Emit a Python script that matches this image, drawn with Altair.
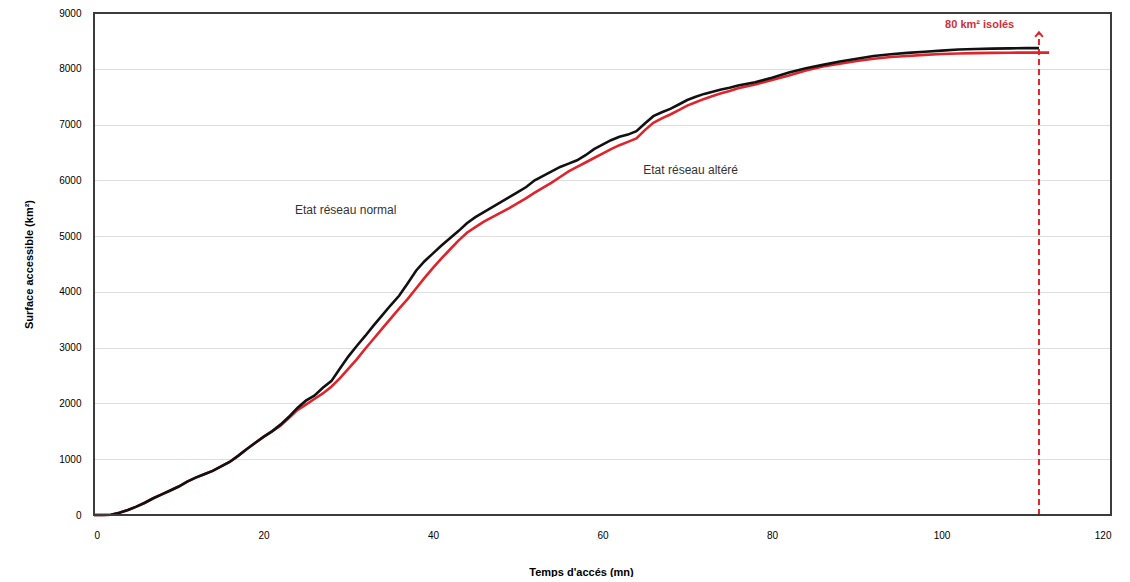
import altair as alt
import pandas as pd

# Etat réseau normal (black)
x_normal = [0, 1, 2, 3, 4, 5, 6, 7, 8, 9, 10, 11, 12, 13, 14, 15, 16, 17, 18, 19,
            20, 21, 22, 23, 24, 25, 26, 27, 28, 29, 30, 31, 32, 33, 34, 35, 36, 37, 38, 39,
            40, 41, 42, 43, 44, 45, 46, 47, 48, 49, 50, 51, 52, 53, 54, 55, 56, 57, 58, 59,
            60, 61, 62, 63, 64, 65, 66, 67, 68, 69, 70, 71, 72, 73, 74, 75, 76, 78, 80, 82,
            84, 86, 88, 90, 92, 94, 96, 98, 100, 102, 104, 106, 108, 110, 111.5]
y_normal = [0, 0, 5, 40, 90, 150, 220, 300, 370, 440, 510, 600, 670, 730, 790, 870, 950, 1060, 1180, 1290,
            1400, 1500, 1620, 1760, 1920, 2050, 2140, 2280, 2400, 2620, 2840, 3030, 3210, 3400, 3580, 3760, 3930, 4150, 4380, 4550,
            4690, 4830, 4960, 5090, 5230, 5340, 5430, 5520, 5610, 5700, 5790, 5880, 6000, 6080, 6160, 6240, 6300, 6360, 6450, 6560,
            6640, 6720, 6780, 6820, 6880, 7020, 7150, 7220, 7280, 7360, 7440, 7500, 7550, 7590, 7630, 7660, 7700, 7760, 7840, 7935,
            8010, 8070, 8130, 8180, 8230, 8260, 8285, 8305, 8325, 8345, 8355, 8362, 8366, 8370, 8370]

# Etat réseau altéré (red)
x_altere = [0, 1, 2, 3, 4, 5, 6, 7, 8, 9, 10, 11, 12, 13, 14, 15, 16, 17, 18, 19,
            20, 21, 22, 23, 24, 25, 26, 27, 28, 29, 30, 31, 32, 33, 34, 35, 36, 37, 38, 39,
            40, 41, 42, 43, 44, 45, 46, 47, 48, 49, 50, 51, 52, 53, 54, 55, 56, 57, 58, 59,
            60, 61, 62, 63, 64, 65, 66, 67, 68, 69, 70, 71, 72, 73, 74, 75, 76, 78, 80, 82,
            84, 86, 88, 90, 92, 94, 96, 98, 100, 102, 104, 106, 108, 110, 112.7]
y_altere = [0, 0, 5, 40, 90, 150, 220, 300, 370, 440, 510, 600, 670, 730, 790, 870, 950, 1060, 1180, 1290,
            1400, 1500, 1600, 1740, 1880, 1980, 2080, 2180, 2300, 2450, 2620, 2790, 2980, 3160, 3340, 3520, 3700, 3870, 4060, 4250,
            4430, 4600, 4760, 4920, 5060, 5160, 5260, 5340, 5420, 5500, 5590, 5680, 5780, 5870, 5960, 6060, 6160, 6240, 6320, 6400,
            6480, 6560, 6630, 6690, 6750, 6900, 7030, 7110, 7180, 7260, 7340, 7400, 7460, 7510, 7560, 7600, 7650, 7720, 7800, 7880,
            7970, 8040, 8090, 8140, 8180, 8210, 8230, 8250, 8265, 8275, 8280, 8285, 8288, 8290, 8290]

series_names = ["Etat réseau normal", "Etat réseau altéré"]
series_colors = ["#111111", "#e0242b"]

# annotations
label_x = [29.7, 70.4]
label_y = [5466, 6183]
label_text = ["Etat réseau normal", "Etat réseau altéré"]

isolated_x = 111.5
isolated_top = 8620
isolated_text = "80 km² isolés"
isolated_text_x = 104.5
isolated_text_y = 8790

x_min, x_max = 0, 120
y_min, y_max = 0, 9000

df = pd.concat([
    pd.DataFrame({"t": x_normal, "s": y_normal, "serie": series_names[0], "o": range(len(x_normal))}),
    pd.DataFrame({"t": x_altere, "s": y_altere, "serie": series_names[1], "o": range(len(x_altere))}),
])

xs = alt.Scale(domain=[x_min, x_max], nice=False)
ys = alt.Scale(domain=[y_min, y_max], nice=False)

x_ax = alt.Axis(title="Temps d'accés (mn)", values=list(range(0, 121, 20)), grid=False, format="d",
                domain=False, ticks=False, labelPadding=15, titlePadding=26, titleX=487)
y_ax = alt.Axis(title="Surface accessible (km²)", values=list(range(0, 9001, 1000)), grid=True, format="d",
                domain=False, ticks=False, labelPadding=13, titlePadding=24)

lines = alt.Chart(df).mark_line(strokeWidth=2.6, interpolate="linear").encode(
    x=alt.X("t:Q", scale=xs, axis=x_ax),
    y=alt.Y("s:Q", scale=ys, axis=y_ax),
    color=alt.Color("serie:N", scale=alt.Scale(domain=series_names, range=series_colors), legend=None),
    order="o:Q",
)

red = lines.transform_filter(alt.datum.serie == series_names[1])
black = lines.transform_filter(alt.datum.serie == series_names[0])

frame_df = pd.DataFrame({"x0": [x_min], "x1": [x_max], "y0": [y_min], "y1": [y_max]})
frame = alt.Chart(frame_df).mark_rect(filled=False, stroke="#3c3c3c", strokeWidth=2, fillOpacity=0).encode(
    x=alt.X("x0:Q", scale=xs), x2="x1:Q", y=alt.Y("y0:Q", scale=ys), y2="y1:Q")

lab_df = pd.DataFrame({"x": label_x, "y": label_y, "t": label_text})
labels = alt.Chart(lab_df).mark_text(fontSize=12, color="#333333", font="Liberation Sans").encode(
    x=alt.X("x:Q", scale=xs), y=alt.Y("y:Q", scale=ys), text="t:N")

iso_df = pd.DataFrame({"x": [isolated_x], "y0": [0], "y1": [isolated_top]})
dash = alt.Chart(iso_df).mark_rule(color="#e0242b", strokeWidth=2, strokeDash=[6, 4]).encode(
    x=alt.X("x:Q", scale=xs), y=alt.Y("y0:Q", scale=ys), y2="y1:Q")
arrow = alt.Chart(iso_df).mark_point(
    shape="M-1,0.7L0,-0.5L1,0.7", filled=False, color="#e0242b", strokeWidth=2, size=60, opacity=1
).encode(x=alt.X("x:Q", scale=xs), y=alt.Y("y1:Q", scale=ys))

iso_txt_df = pd.DataFrame({"x": [isolated_text_x], "y": [isolated_text_y], "t": [isolated_text]})
iso_txt = alt.Chart(iso_txt_df).mark_text(fontSize=11, fontWeight="bold", color="#d0303a",
                                          font="Liberation Sans").encode(
    x=alt.X("x:Q", scale=xs), y=alt.Y("y:Q", scale=ys), text="t:N")

chart = alt.layer(red, black, dash, arrow, labels, iso_txt, frame).properties(
    width=1017, height=502,
    padding={"left": 15, "top": 0, "right": 0, "bottom": 0},
).configure_view(
    strokeWidth=0
).configure_axis(
    labelFont="Liberation Sans", labelFontSize=12, labelColor="#555555",
    titleFont="Liberation Sans", titleFontSize=11.5, titleFontWeight="bold", titleColor="#333333",
    gridColor="#aaaaaa", gridWidth=1,
).configure(background="white")

chart.save("out.html", embed_options={"renderer": "svg", "actions": False})
